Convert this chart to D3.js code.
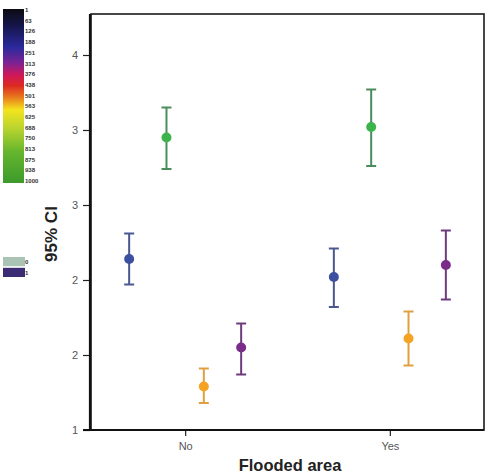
<!DOCTYPE html>
<html>
<head>
<meta charset="utf-8">
<script src="https://cdn.jsdelivr.net/npm/d3@7/dist/d3.min.js"></script>
<style>
  body { margin: 0; background: #fff; }
  svg { display: block; font-family: "Liberation Sans", Arial, sans-serif; }
</style>
</head>
<body>
<script>
// categories on the x axis and the four coloured groups inside each
const categories = ['No', 'Yes'];
const groups = ['g1', 'g2', 'g3', 'g4'];

// means and 95% CI bounds, per group
const meanNo = [2.14, 2.95, 1.29, 1.55];
const lowNo = [1.97, 2.74, 1.18, 1.37];
const highNo = [2.31, 3.15, 1.41, 1.71];

const meanYes = [2.02, 3.02, 1.61, 2.10];
const lowYes = [1.82, 2.76, 1.43, 1.87];
const highYes = [2.21, 3.27, 1.79, 2.33];

// y ticks as printed (values rounded to integers in the source)
const yTickValues = [1, 1.5, 2, 2.5, 3, 3.5];
const yTickLabels = ['1', '2', '2', '3', '3', '4'];

// colour bar legend labels
const barLabels = ['1', '63', '126', '188', '251', '313', '376', '438', '501',
  '563', '625', '688', '750', '813', '875', '938', '1000'];

// second legend
const binLabels = ['0', '1'];

const colors = ['#3d4f9f', '#3cb44b', '#f4a322', '#7a2d88'];
const whisker = ['#4b5790', '#4a8c5a', '#e0a040', '#6e3a7e'];

const width = 491, height = 476;
const plot = {left: 91, right: 484, top: 14, bottom: 430};

const svg = d3.select('body').append('svg')
  .attr('width', width)
  .attr('height', height);

const y = d3.scaleLinear()
  .domain([1, 3.5])
  .range([plot.bottom, 55]);

const x = d3.scalePoint()
  .domain(categories)
  .range([plot.left, plot.right])
  .padding(0.46);

const offset = d3.scalePoint()
  .domain(groups)
  .range([-56, 56]);

const rows = [];
categories.forEach((c) => {
  let m = c === 'No' ? meanNo : meanYes;
  let lo = c === 'No' ? lowNo : lowYes;
  let hi = c === 'No' ? highNo : highYes;
  groups.forEach((g, i) => {
    rows.push({cat: c, group: g, i: i, mean: m[i], low: lo[i], high: hi[i]});
  });
});

// frame
svg.append('rect')
  .attr('x', plot.left)
  .attr('y', plot.top)
  .attr('width', plot.right - plot.left)
  .attr('height', plot.bottom - plot.top)
  .attr('fill', 'none')
  .attr('stroke', '#1a1a1a')
  .attr('stroke-width', 1.6);

// y axis
const yAxis = svg.append('g')
  .attr('transform', 'translate(' + (plot.left - 1) + ',0)')
  .call(d3.axisLeft(y)
    .tickValues(yTickValues)
    .tickFormat((d, i) => yTickLabels[i])
    .tickSize(7)
    .tickPadding(5));
yAxis.select('.domain').remove();
yAxis.selectAll('line').attr('stroke', '#222').attr('stroke-width', 1.2);
yAxis.selectAll('text').attr('font-size', 11).attr('fill', '#555');

svg.append('line')
  .attr('x1', plot.left - 1).attr('x2', plot.left - 1)
  .attr('y1', plot.top).attr('y2', plot.bottom + 1)
  .attr('stroke', '#111').attr('stroke-width', 2.2);

// x axis
const xAxis = svg.append('g')
  .attr('transform', 'translate(0,' + plot.bottom + ')')
  .call(d3.axisBottom(x).tickSize(6).tickPadding(6));
xAxis.select('.domain').remove();
xAxis.selectAll('line').attr('stroke', '#222').attr('stroke-width', 1.2);
xAxis.selectAll('text').attr('font-size', 11).attr('fill', '#555');

svg.append('line')
  .attr('x1', 83).attr('x2', plot.right)
  .attr('y1', plot.bottom).attr('y2', plot.bottom)
  .attr('stroke', '#111').attr('stroke-width', 2.2);

// axis titles
svg.append('text')
  .attr('x', 290)
  .attr('y', 471)
  .attr('text-anchor', 'middle')
  .attr('font-size', 16.5)
  .attr('font-weight', 'bold')
  .attr('fill', '#222')
  .text('Flooded area');

svg.append('text')
  .attr('transform', 'translate(57,234) rotate(-90)')
  .attr('text-anchor', 'middle')
  .attr('font-size', 17)
  .attr('font-weight', 'bold')
  .attr('fill', '#222')
  .text('95% CI');

// error bars
const bars = svg.append('g').selectAll('g.err')
  .data(rows)
  .join('g')
  .attr('class', 'err')
  .attr('transform', (d) => 'translate(' + (x(d.cat) + offset(d.group)) + ',0)');

bars.append('line')
  .attr('y1', (d) => y(d.low))
  .attr('y2', (d) => y(d.high))
  .attr('stroke', (d) => whisker[d.i])
  .attr('stroke-width', 2);

bars.selectAll('line.cap')
  .data((d) => [[d.low, d.i], [d.high, d.i]])
  .join('line')
  .attr('class', 'cap')
  .attr('x1', -5).attr('x2', 5)
  .attr('y1', (d) => y(d[0]))
  .attr('y2', (d) => y(d[0]))
  .attr('stroke', (d) => whisker[d[1]])
  .attr('stroke-width', 2);

bars.append('circle')
  .attr('cy', (d) => y(d.mean))
  .attr('r', 5)
  .attr('fill', (d) => colors[d.i]);

// colour bar legend
const grad = svg.append('defs').append('linearGradient')
  .attr('id', 'cbar')
  .attr('x1', 0).attr('x2', 0).attr('y1', 0).attr('y2', 1);

[[0, '#0b0b12'], [0.1, '#16164e'], [0.22, '#2a2a9c'], [0.31, '#7d2293'],
 [0.38, '#d0185a'], [0.44, '#dc2a22'], [0.5, '#e8701e'], [0.58, '#f3e41e'],
 [0.68, '#bcd52e'], [0.82, '#66b62e'], [1, '#3c9a2c']].forEach((s) => {
  grad.append('stop').attr('offset', s[0]).attr('stop-color', s[1]);
});

svg.append('rect')
  .attr('x', 3).attr('y', 9)
  .attr('width', 21).attr('height', 174)
  .attr('fill', 'url(#cbar)');

const barY = d3.scalePoint()
  .domain(barLabels)
  .range([10, 181]);

svg.append('g').selectAll('text')
  .data(barLabels)
  .join('text')
  .attr('x', 25)
  .attr('y', (d) => barY(d))
  .attr('dy', '0.35em')
  .attr('font-size', 6)
  .attr('font-weight', 'bold')
  .attr('fill', '#333')
  .text((d) => d);

// binary legend
const binY = d3.scaleBand()
  .domain(binLabels)
  .range([257, 277])
  .paddingInner(0.15);
const binColors = ['#a9c4b4', '#3b2c74'];

svg.append('g').selectAll('rect')
  .data(binLabels)
  .join('rect')
  .attr('x', 3)
  .attr('y', (d) => binY(d))
  .attr('width', 22)
  .attr('height', binY.bandwidth())
  .attr('fill', (d, i) => binColors[i]);

svg.append('g').selectAll('text')
  .data(binLabels)
  .join('text')
  .attr('x', 25)
  .attr('y', (d) => binY(d) + binY.bandwidth() / 2)
  .attr('dy', '0.35em')
  .attr('font-size', 6)
  .attr('font-weight', 'bold')
  .attr('fill', '#333')
  .text((d) => d);
</script>
</body>
</html>
